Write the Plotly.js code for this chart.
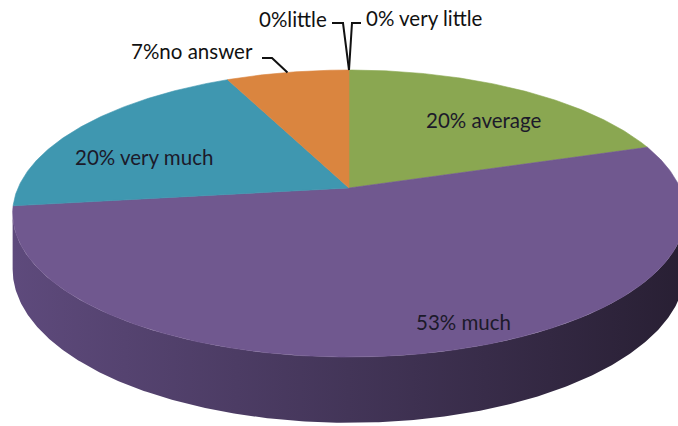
<!DOCTYPE html>
<html>
<head>
<meta charset="utf-8">
<script src="https://cdn.plot.ly/plotly-3.0.1.min.js"></script>
<style>html,body{margin:0;padding:0;background:#fff;}#chart{width:678px;height:426px;}</style>
</head>
<body>
<div id="chart"></div>
<script>
// ---- data ----
const categories = ['average', 'much', 'very much', 'no answer', 'little', 'very little'];
const values = [20, 53, 20, 7, 0, 0];
const labelTexts = ['20% average', '53% much', '20% very much', '7%no answer', '0%little', '0% very little'];

// ---- styles ----
const topColors = ['#8aa751', '#70588f', '#3f97b0', '#da853f', '#b0b0b0', '#b0b0b0'];
const wallScales = [
  [[0, '#6f8a42'], [1, '#3a4a22']],
  [[0, '#5e4a7c'], [0.5, '#433558'], [1, '#281f33']],
  [[0, '#357f94'], [1, '#1d4552']],
  [[0, '#b86e33'], [1, '#6a3d1c']],
  [[0, '#888'], [1, '#444']],
  [[0, '#888'], [1, '#444']]
];

// ---- geometry (perspective projection of a disc) ----
const CX = 349, CY = 188, A = 331, B = 139, K = 0.178, DEPTH = 54;
function proj(deg, drop) {
  const t = deg * Math.PI / 180;
  const s = Math.sin(t), c = Math.cos(t);
  const w = 1 + K * c;
  return [CX + A * s / w, CY - B * c / w + (drop || 0) / w];
}
function arc(a, b, drop) {
  const pts = [];
  const n = Math.max(2, Math.ceil(Math.abs(b - a) / 0.5));
  for (let i = 0; i <= n; i++) pts.push(proj(a + (b - a) * i / n, drop));
  return pts;
}

const total = values.reduce((p, v) => p + v, 0);
const starts = [], ends = [];
let acc = 0;
values.forEach(v => { starts.push(acc / total * 360); acc += v; ends.push(acc / total * 360); });

// visible side wall range (silhouette where cos = -K)
const visFrom = Math.acos(-K) * 180 / Math.PI;
const visTo = 360 - visFrom;

const traces = [];
// side walls
values.forEach((v, i) => {
  if (v <= 0) return;
  const a = Math.max(starts[i], visFrom), b = Math.min(ends[i], visTo);
  if (b <= a) return;
  const pts = arc(a, b, 0).concat(arc(b, a, DEPTH));
  traces.push({
    type: 'scatter', mode: 'lines', fill: 'toself',
    x: pts.map(p => p[0]), y: pts.map(p => p[1]),
    line: {width: 0, color: wallScales[i][1][1]},
    fillgradient: {type: 'horizontal', colorscale: wallScales[i]},
    hoverinfo: 'skip'
  });
});
// top faces
values.forEach((v, i) => {
  if (v <= 0) return;
  const pts = [[CX, CY]].concat(arc(starts[i], ends[i], 0));
  pts.push([CX, CY]);
  traces.push({
    type: 'scatter', mode: 'lines', fill: 'toself',
    x: pts.map(p => p[0]), y: pts.map(p => p[1]),
    line: {width: 0.6, color: topColors[i]},
    fillcolor: topColors[i],
    name: categories[i], hoverinfo: 'skip'
  });
});

// ---- labels ----
const labelPos = [
  {x: 484, y: 120, xanchor: 'center'},
  {x: 463, y: 322, xanchor: 'center'},
  {x: 144, y: 157, xanchor: 'center'},
  {x: 255, y: 51, xanchor: 'right'},
  {x: 329, y: 19, xanchor: 'right'},
  {x: 364, y: 18, xanchor: 'left'}
];
// leader elbows (only for outside labels)
const elbows = [null, null, null, [[262, 58], [272, 58]], [[332, 23], [343, 23]], [[361, 23], [352, 23]]];
elbows.forEach((e, i) => {
  if (!e) return;
  const mid = (starts[i] + ends[i]) / 2;
  const pts = e.concat([proj(mid, 0)]);
  traces.push({
    type: 'scatter', mode: 'lines',
    x: pts.map(p => p[0]), y: pts.map(p => p[1]),
    line: {width: 2, color: '#111'}, hoverinfo: 'skip'
  });
});

const annotations = labelTexts.map((t, i) => ({
  x: labelPos[i].x, y: labelPos[i].y, xref: 'x', yref: 'y',
  text: t, showarrow: false, xanchor: labelPos[i].xanchor, yanchor: 'middle',
  font: {family: 'Lato, "Open Sans", sans-serif', size: 20.5, color: i < 3 ? '#1c1a2a' : '#111'}
}));

const layout = {
  width: 678, height: 426,
  margin: {l: 0, r: 0, t: 0, b: 0},
  paper_bgcolor: '#ffffff', plot_bgcolor: '#ffffff',
  showlegend: false, hovermode: false,
  xaxis: {range: [0, 678], visible: false, fixedrange: true},
  yaxis: {range: [426, 0], visible: false, fixedrange: true},
  annotations: annotations
};
Plotly.newPlot('chart', traces, layout, {staticPlot: true, displayModeBar: false});
</script>
</body>
</html>
